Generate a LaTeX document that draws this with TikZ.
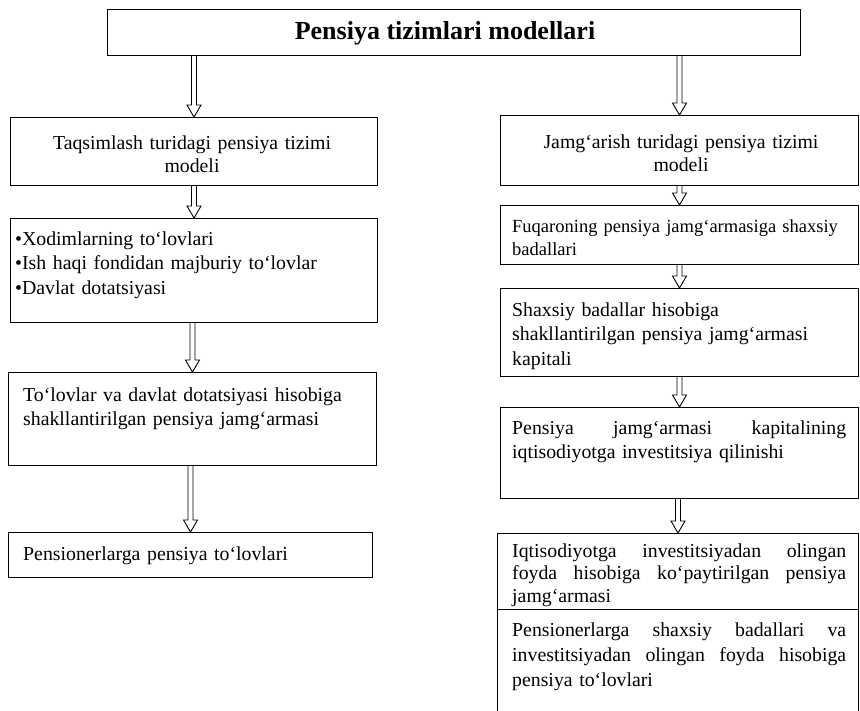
\documentclass[tikz,border=0pt]{standalone}
\usepackage{fontspec}
\setmainfont{Liberation Serif}
\usetikzlibrary{calc}
\tikzset{
  box/.style={draw=black, line width=1pt, rectangle, inner sep=0pt, anchor=north west},
  txt/.style={inner sep=0pt, align=left},
  fbody/.style={font=\fontsize{19.8}{#1}\selectfont},
  darr/.style={draw=black, line width=0.9pt, line join=miter},
}
\newcommand\hollowarrow[2]{%
  \draw[darr] let \p1=(#1), \p2=(#2) in
    (\x2-2.5pt,\y1) -- (\x2-2.5pt,\y2+12pt) -- (\x2-7pt,\y2+12pt) -- (\x2,\y2)
    -- (\x2+7pt,\y2+12pt) -- (\x2+2.5pt,\y2+12pt) -- (\x2+2.5pt,\y1);}
\newcommand\jline[1]{\leavevmode\hbox to 334pt{#1}}
\begin{document}
\begin{tikzpicture}[x=1pt,y=-1pt]
\useasboundingbox[fill=white] (0,0) rectangle (860,710);

% title
\node[box, minimum width=693, minimum height=46] (title) at (107,9) {};
\node[txt, anchor=base, font=\fontsize{26}{30}\bfseries\selectfont] (ttext) at (445,39) {Pensiya tizimlari modellari};

% left column
\node[box, minimum width=367, minimum height=68] (l1) at (10,117) {};
\node[box, minimum width=367, minimum height=104] (l2) at (10,218) {};
\node[box, minimum width=368, minimum height=93] (l3) at (8,372) {};
\node[box, minimum width=364, minimum height=45] (l4) at (8,532) {};

\node[txt, fbody=23, text width=340, align=center, anchor=base] (t1) at (192,149)
  {Taqsimlash turidagi pensiya tizimi\\modeli};
\node[txt, fbody=24.5, text width=360, anchor=base west] (t2) at (15,245)
  {•Xodimlarning to‘lovlari\\•Ish haqi fondidan majburiy to‘lovlar\\•Davlat dotatsiyasi};
\node[txt, fbody=24, text width=350, anchor=base west] (t3) at (23,401)
  {To‘lovlar va davlat dotatsiyasi hisobiga\\shakllantirilgan pensiya jamg‘armasi};
\node[txt, fbody=24, text width=340, anchor=base west] (t4) at (23,560)
  {Pensionerlarga pensiya to‘lovlari};

% right column
\node[box, minimum width=358, minimum height=70] (r1) at (500,115) {};
\node[box, minimum width=358, minimum height=59] (r2) at (500,205) {};
\node[box, minimum width=358, minimum height=88] (r3) at (500,288) {};
\node[box, minimum width=358, minimum height=91] (r4) at (500,407) {};
\node[box, minimum width=361, minimum height=76] (r5) at (497,533) {};
\node[box, minimum width=361, minimum height=120] (r6) at (497,609) {};

\node[txt, fbody=23, text width=340, align=center, anchor=base] (s1) at (681,148)
  {Jamg‘arish turidagi pensiya tizimi\\modeli};
\node[txt, font=\fontsize{18.5}{23.5}\selectfont, text width=340, anchor=base west] (s2) at (512,232)
  {Fuqaroning pensiya jamg‘armasiga shaxsiy\\badallari};
\node[txt, fbody=24.5, text width=334, anchor=base west] (s3) at (512,316)
  {Shaxsiy badallar hisobiga\\shakllantirilgan pensiya jamg‘armasi\\kapitali};
\node[txt, fbody=24, text width=334, anchor=base west] (s4) at (512,434)
  {\jline{Pensiya\hfill jamg‘armasi\hfill kapitalining}\\iqtisodiyotga investitsiya qilinishi};
\node[txt, fbody=22.5, text width=334, anchor=base west] (s5) at (512,557)
  {\jline{Iqtisodiyotga\hfill investitsiyadan\hfill olingan}\\\jline{foyda\hfill hisobiga\hfill ko‘paytirilgan\hfill pensiya}\\jamg‘armasi};
\node[txt, fbody=25, text width=334, anchor=base west] (s6) at (512,636)
  {\jline{Pensionerlarga\hfill shaxsiy\hfill badallari\hfill va}\\\jline{investitsiyadan\hfill olingan\hfill foyda\hfill hisobiga}\\pensiya to‘lovlari};

% arrows
\hollowarrow{title.south}{l1.north}
\hollowarrow{title.south}{r1.north}
\hollowarrow{l1.south}{l2.north}
\hollowarrow{l2.south}{l3.north}
\hollowarrow{l3.south}{l4.north}
\hollowarrow{r1.south}{r2.north}
\hollowarrow{r2.south}{r3.north}
\hollowarrow{r3.south}{r4.north}
\hollowarrow{r4.south}{r5.north}
\end{tikzpicture}
\end{document}
